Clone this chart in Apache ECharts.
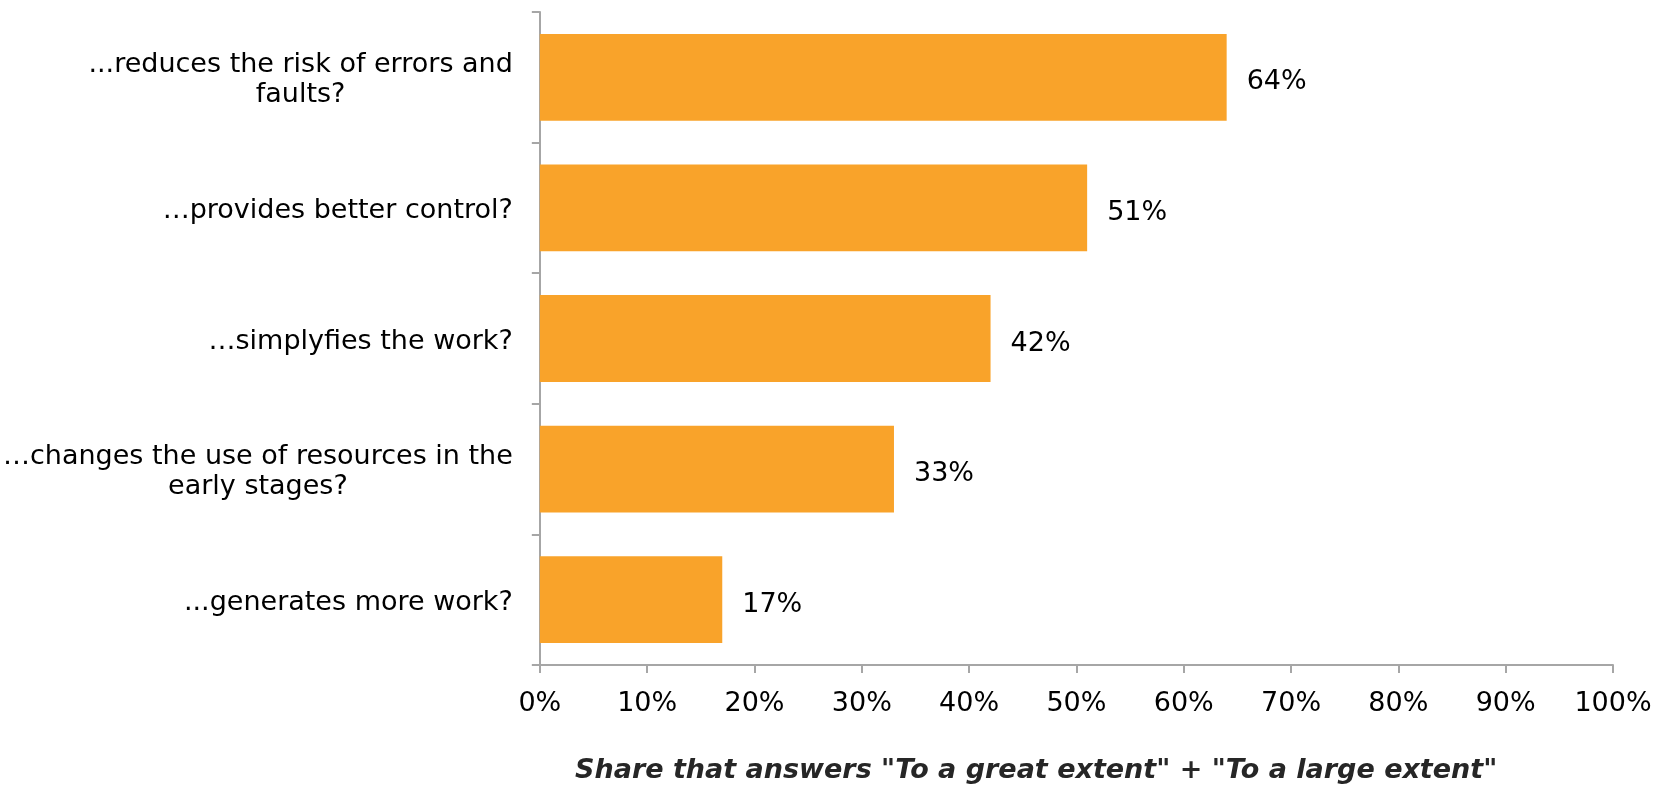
<!DOCTYPE html>
<html>
<head>
<meta charset="utf-8">
<title>Share that answers "To a great extent" + "To a large extent"</title>
<script src="https://cdn.jsdelivr.net/npm/echarts@6/dist/echarts.min.js"></script>
<style>
  html, body { margin: 0; padding: 0; background: #ffffff; }
  #chart { width: 1659px; height: 786px; }
</style>
</head>
<body>
<div id="chart"></div>
<script>
// Survey statements (top to bottom) and the share answering positively, in percent
const categories = [
  '...reduces the risk of errors and\nfaults?',
  '\u2026provides better control?',
  '\u2026simplyfies the work?',
  '\u2026changes the use of resources in the\nearly stages?',
  '...generates more work?'
];
const shares = [64, 51, 42, 33, 17];
const xTicks = { min: 0, max: 100, interval: 10 };
const axisTitle = 'Share that answers "To a great extent" + "To a large extent"';

const FONT = '"DejaVu Sans", Verdana, sans-serif';
const AXIS_GRAY = '#a6a6a6';
const BAR_ORANGE = '#f9a32a';
const TEXT_SIZE = 27;

const chart = echarts.init(document.getElementById('chart'), null, { renderer: 'canvas' });

chart.setOption({
  animation: false,
  backgroundColor: '#ffffff',
  grid: { left: 538, right: 46, top: 12, bottom: 121, containLabel: false },
  xAxis: {
    type: 'value',
    min: xTicks.min,
    max: xTicks.max,
    interval: xTicks.interval,
    axisLine: { show: true, lineStyle: { color: AXIS_GRAY, width: 2 } },
    axisTick: { show: true, length: 8, lineStyle: { color: AXIS_GRAY, width: 2 } },
    splitLine: { show: false },
    axisLabel: {
      formatter: '{value}%',
      color: '#000000',
      fontFamily: FONT,
      fontSize: TEXT_SIZE,
      margin: 25
    }
  },
  yAxis: {
    type: 'category',
    inverse: true,
    data: categories,
    axisLine: { show: true, lineStyle: { color: AXIS_GRAY, width: 2 } },
    axisTick: { show: true, length: 8, lineStyle: { color: AXIS_GRAY, width: 2 } },
    axisLabel: {
      margin: 27,
      color: '#000000',
      fontFamily: FONT,
      fontSize: TEXT_SIZE,
      lineHeight: 30,
      align: 'right',
      padding: [6, 0, 0, 0],
      // keep wrapped lines centred on each other
      formatter: function (value) {
        return value.split('\n').map(function (line) { return '{c|' + line + '}'; }).join('\n');
      },
      rich: {
        c: { align: 'center', fontFamily: FONT, fontSize: TEXT_SIZE, lineHeight: 30, color: '#000000' }
      }
    }
  },
  series: [{
    type: 'bar',
    data: shares,
    barCategoryGap: '33.5%',
    itemStyle: { color: BAR_ORANGE },
    label: {
      show: true,
      position: 'right',
      distance: 20,
      offset: [0, 5],
      formatter: '{c}%',
      color: '#000000',
      fontFamily: FONT,
      fontSize: TEXT_SIZE
    }
  }],
  graphic: [{
    type: 'text',
    x: 575,
    y: 771,
    style: {
      text: axisTitle,
      fill: '#262626',
      font: 'italic bold 27px ' + FONT,
      textVerticalAlign: 'middle'
    }
  }]
});
</script>
</body>
</html>
